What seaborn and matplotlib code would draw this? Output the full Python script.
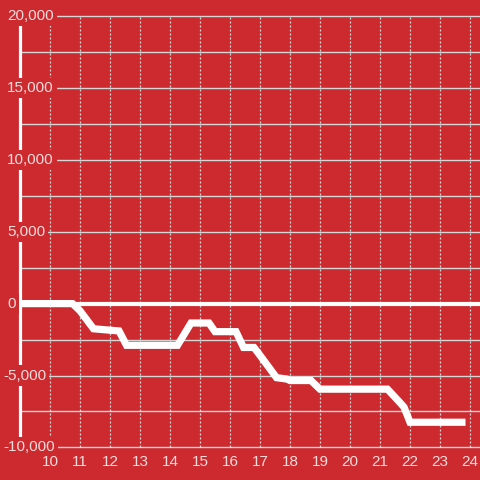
# cumulative balance over the day, red card style

import matplotlib
matplotlib.use("Agg")
import matplotlib.pyplot as plt
import seaborn as sns
import pandas as pd

bg = "#CC2A2F"
txt = "#F5DCDC"
grid = "#D6D6D6"

hours = [9.0, 10.75, 11.0, 11.45, 12.0, 12.3, 12.55, 14.25, 14.7, 15.3, 15.5,
         16.2, 16.45, 16.8, 17.0, 17.55, 17.9, 18.0, 18.7, 19.0, 21.25, 21.65,
         21.8, 22.0, 23.85]
balance = [0, 0, -500, -1750, -1850, -1900, -2900, -2900, -1350, -1350, -1950,
           -1950, -3050, -3050, -3600, -5150, -5250, -5350, -5350, -5950, -5950,
           -6850, -7200, -8250, -8250]

x_ticks = list(range(10, 25))
y_ticks = [-10000, -5000, 0, 5000, 10000, 15000, 20000]
y_grid = [-10000, -7500, -5000, -2500, 2500, 5000, 7500, 10000, 12500, 15000, 17500, 20000]

df = pd.DataFrame({"hour": hours, "balance": balance})

sns.set_style("white")
plt.rcParams["font.family"] = ["Liberation Sans", "DejaVu Sans"]

fig = plt.figure(figsize=(4.8, 4.8), dpi=100, facecolor=bg)
ax = fig.add_axes([0, 0, 1, 1])
ax.set_facecolor(bg)

x0, x1 = 8.333, 24.333
ax.set_xlim(x0, x1)
ax.set_ylim(-12267, 21113)

# grid
ax.hlines(y_grid, 9, x1, color=grid, lw=1, zorder=1)
ax.vlines(x_ticks, -10000, 20000, color=grid, lw=0.9, linestyles=(0, (1.6, 1.6)), zorder=1)
# axis line and zero line
ax.vlines([9], -10000, 20000, color="white", lw=2.3, zorder=2)
ax.hlines([0], 8.9, x1, color="white", lw=3, zorder=2)

sns.lineplot(data=df, x="hour", y="balance", color="white", lw=5.2,
             ax=ax, zorder=3, solid_capstyle="butt", solid_joinstyle="miter")

for v in y_ticks:
    px = 3 if v < 0 else 7
    ax.text(x0 + px / 30, v, f"{v:,}", ha="left", va="center", fontsize=11,
            color=txt, zorder=5,
            bbox=dict(boxstyle="square,pad=0.2", fc=bg, ec="none"))

for h in x_ticks:
    ax.text(h, -11050, str(h), ha="center", va="center", fontsize=11, color=txt, zorder=5)

ax.axis("off")
fig.savefig("out.png", dpi=100, facecolor=bg)
